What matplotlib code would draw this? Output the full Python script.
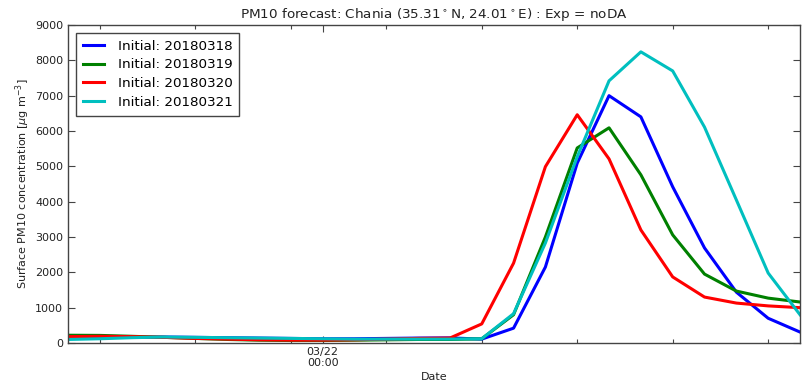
import matplotlib
matplotlib.use("Agg")
import matplotlib.pyplot as plt
import matplotlib.dates as mdates
from datetime import datetime, timedelta

# 3-hourly verification times
start = datetime(2018, 3, 21, 0)
times = [start + timedelta(hours=3 * i) for i in range(24)]

labels = ["Initial: 20180318", "Initial: 20180319", "Initial: 20180320", "Initial: 20180321"]
colors = ["b", "g", "r", "c"]

pm_0318 = [130, 150, 165, 170, 160, 150, 140, 130, 120, 120, 130, 140, 145, 110,
           420, 2150, 5090, 7000, 6400, 4420, 2690, 1440, 700, 310]
pm_0319 = [220, 215, 190, 160, 130, 100, 80, 70, 70, 80, 90, 100, 100, 120,
           800, 3000, 5520, 6090, 4760, 3060, 1950, 1470, 1270, 1160]
pm_0320 = [180, 190, 180, 160, 130, 110, 90, 80, 80, 90, 110, 130, 140, 540,
           2260, 4990, 6460, 5210, 3200, 1870, 1300, 1130, 1050, 1000]
pm_0321 = [100, 120, 150, 170, 160, 150, 140, 130, 120, 110, 110, 110, 110, 120,
           830, 2830, 5270, 7420, 8240, 7700, 6110, 4050, 1980, 800]
series = [pm_0318, pm_0319, pm_0320, pm_0321]

plt.rcParams.update({
    "font.family": "DejaVu Sans",
    "xtick.direction": "in",
    "ytick.direction": "in",
    "xtick.top": True,
    "ytick.right": True,
})

fig = plt.figure(figsize=(8.02, 3.83), dpi=100)
ax = fig.add_axes([68 / 802, 1 - 343 / 383, (800 - 68) / 802, (343 - 25) / 383])

for vals, lab, col in zip(series, labels, colors):
    ax.plot(times, vals, color=col, lw=2.2, label=lab)

ax.set_xlim(times[0], times[-1])
ax.set_ylim(0, 9000)
ax.set_yticks(range(0, 9001, 1000))

ax.xaxis.set_major_locator(mdates.DayLocator(bymonthday=[22]))
ax.xaxis.set_major_formatter(mdates.DateFormatter("%m/%d\n%H:%M"))
minor_times = [start + timedelta(hours=h) for h in range(3, 70, 9)]
ax.set_xticks([mdates.date2num(t) for t in minor_times], minor=True)

for sp in ax.spines.values():
    sp.set_color("#444444")
    sp.set_linewidth(1.0)
ax.tick_params(which="major", length=5, width=0.8, colors="#444444", labelsize=8, labelcolor="#222222")
ax.tick_params(which="minor", length=3, width=0.8, colors="#444444")
ax.tick_params(axis="x", which="major", pad=3)
for t in ax.get_xticklabels():
    t.set_linespacing(1.05)

ax.set_title("PM10 forecast: Chania (35.31$^\\circ$N, 24.01$^\\circ$E) : Exp = noDA",
             fontsize=9.7, color="#222222", pad=5)
ax.set_xlabel("Date", fontsize=8, color="#222222", labelpad=3)
ax.set_ylabel("Surface PM10 concentration [$\\mu$g m$^{-3}$]", fontsize=8, color="#222222", labelpad=2)

leg = ax.legend(loc="upper left", fontsize=9.7, fancybox=False, framealpha=1,
                edgecolor="#444444", handlelength=1.6, handletextpad=1.0,
                borderpad=0.5, labelspacing=0.42, borderaxespad=0.6)
leg.get_frame().set_linewidth(1.0)

fig.savefig("out.png", dpi=100)
